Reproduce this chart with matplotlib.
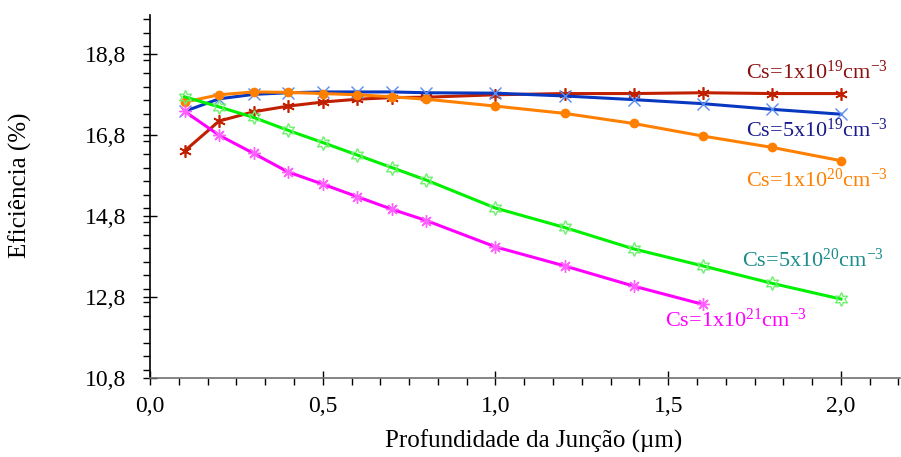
import matplotlib
matplotlib.use("Agg")
import matplotlib.pyplot as plt
from matplotlib.ticker import MultipleLocator, FuncFormatter

plt.rcParams['font.family'] = ['Liberation Serif', 'DejaVu Serif']
plt.rcParams['mathtext.default'] = 'regular'

# profundidade da juncao (um)
x = [0.1, 0.2, 0.3, 0.4, 0.5, 0.6, 0.7, 0.8, 1.0, 1.2, 1.4, 1.6, 1.8, 2.0]
x_short = [0.1, 0.2, 0.3, 0.4, 0.5, 0.6, 0.7, 0.8, 1.0, 1.2, 1.4, 1.6]

# eficiencia (%) por concentracao superficial
ef_1e19 = [16.41, 17.15, 17.38, 17.52, 17.62, 17.69, 17.73, 17.74, 17.80, 17.83, 17.83, 17.85, 17.83, 17.83]
ef_5e19 = [17.39, 17.70, 17.81, 17.85, 17.87, 17.87, 17.87, 17.85, 17.84, 17.77, 17.68, 17.58, 17.44, 17.32]
ef_1e20 = [17.62, 17.80, 17.87, 17.86, 17.83, 17.80, 17.75, 17.69, 17.52, 17.34, 17.09, 16.78, 16.50, 16.17]
ef_5e20 = [17.75, 17.50, 17.24, 16.92, 16.62, 16.31, 16.00, 15.69, 15.00, 14.52, 13.99, 13.57, 13.14, 12.75]
ef_1e21 = [17.39, 16.80, 16.35, 15.89, 15.59, 15.28, 14.97, 14.69, 14.04, 13.57, 13.07, 12.62]

labels = ['Cs=1x10$^{19}$cm$^{-3}$', 'Cs=5x10$^{19}$cm$^{-3}$', 'Cs=1x10$^{20}$cm$^{-3}$',
          'Cs=5x10$^{20}$cm$^{-3}$', 'Cs=1x10$^{21}$cm$^{-3}$']

fig = plt.figure(figsize=(9.01, 4.57), dpi=100)
ax = fig.add_axes([0.1665, 0.173, 0.832, 0.794])

ax.plot(x, ef_1e19, color='#c02000', lw=2.2, marker=(6, 2, 0), ms=9, mew=1.2)
ax.plot(x, ef_5e19, color='#0838c0', lw=2.2, marker='x', ms=8, mew=1.0, mec='#5a8cf0')
ax.plot(x, ef_1e20, color='#ff8000', lw=2.2, marker='o', ms=6)
ax.plot(x, ef_5e20, color='#00f000', lw=2.2, marker=(6, 1, 0), ms=10, mew=1.0, mfc='none', mec='#70f070')
ax.plot(x_short, ef_1e21, color='#ff00ff', lw=2.2, marker=(8, 2, 0), ms=9, mew=1.0, mec='#ff60ff')

fs = 16
ax.text(1.93, 18.36, labels[0], color='#8b1010', fontsize=fs, ha='center', va='center')
ax.text(1.93, 16.92, labels[1], color='#1a1a8c', fontsize=fs, ha='center', va='center')
ax.text(1.93, 15.69, labels[2], color='#ff8000', fontsize=fs, ha='center', va='center')
ax.text(1.92, 13.71, labels[3], color='#1a8c8c', fontsize=fs, ha='center', va='center')
ax.text(1.695, 12.23, labels[4], color='#ff00ff', fontsize=fs, ha='center', va='center')

ax.set_xlim(0, 2.17)
ax.set_ylim(10.8, 19.77)
ax.xaxis.set_major_locator(MultipleLocator(0.5))
ax.xaxis.set_minor_locator(MultipleLocator(0.5 / 6))
ax.set_yticks([10.8, 12.8, 14.8, 16.8, 18.8])
ax.yaxis.set_minor_locator(MultipleLocator(1 / 3))
fmt = FuncFormatter(lambda v, p: ('%.1f' % v).replace('.', ','))
ax.xaxis.set_major_formatter(fmt)
ax.yaxis.set_major_formatter(fmt)

for s in ['top', 'right']:
    ax.spines[s].set_visible(False)
ax.spines['left'].set_linewidth(1.2)
ax.spines['bottom'].set_linewidth(1.2)
ax.spines['bottom'].set_color('#707070')
ax.tick_params(axis='both', which='major', direction='inout', length=10, width=1.0, labelsize=17)
ax.tick_params(axis='both', which='minor', direction='out', length=5, width=1.0)
ax.tick_params(axis='x', pad=8)
ax.tick_params(axis='y', pad=12)

ax.set_xlabel('Profundidade da Junção (µm)', fontsize=18)
ax.set_ylabel('Eficiência (%)', fontsize=18)
ax.xaxis.set_label_coords(0.512, -0.143)
ax.yaxis.set_label_coords(-0.157, 0.53)

fig.savefig('out.png', dpi=100)
